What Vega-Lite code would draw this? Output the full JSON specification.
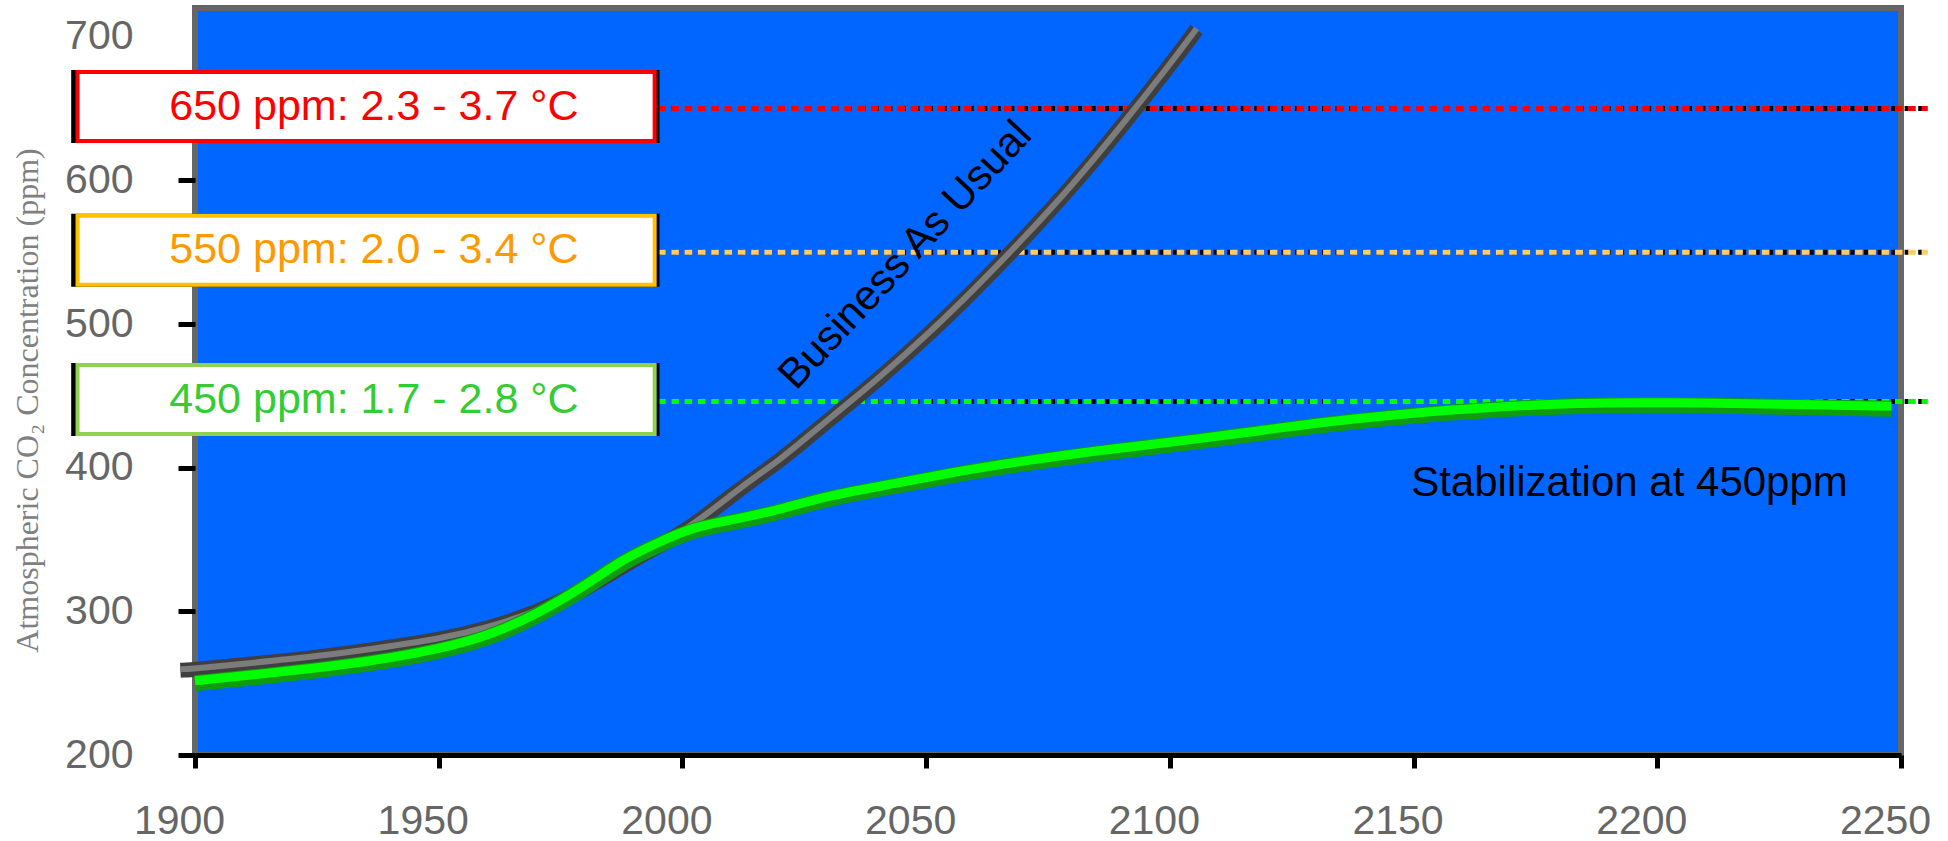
{
  "$schema": "https://vega.github.io/schema/vega-lite/v6.json",
  "width": 1706,
  "height": 747,
  "autosize": "none",
  "padding": {"left": 195, "top": 8, "right": 47, "bottom": 86},
  "background": "white",
  "config": {
    "view": {"fill": "#0066FF", "stroke": "#666666", "strokeWidth": 6},
    "font": "Liberation Sans",
    "axisX": {
      "format": "d", "grid": false,
      "labelFont": "Liberation Sans", "labelFontSize": 41, "labelColor": "#666666",
      "labelOffset": -16, "labelPadding": 33, "labelFlush": false, "labelOverlap": false, "labelBound": false,
      "tickSize": 13, "tickWidth": 5, "tickColor": "black",
      "domainColor": "black", "domainWidth": 5
    },
    "axisY": {
      "grid": false, "domain": false,
      "titleFont": "Liberation Serif", "titleFontSize": 32, "titleFontWeight": "normal",
      "titleColor": "#808080", "titleX": -168, "titleY": 392, "titleAngle": -90,
      "titleAlign": "center", "titleBaseline": "middle",
      "labelFont": "Liberation Sans", "labelFontSize": 41, "labelColor": "#666666",
      "labelPadding": 45, "labelFlush": false, "labelOverlap": false, "labelBound": false,
      "tickSize": 17, "tickWidth": 5
    }
  },
  "datasets": {
    "curves": [
      {"scenario": "Business As Usual", "year": 1897, "ppm": 259},
      {"scenario": "Business As Usual", "year": 1900, "ppm": 259.5},
      {"scenario": "Business As Usual", "year": 1912, "ppm": 263.5},
      {"scenario": "Business As Usual", "year": 1925, "ppm": 268},
      {"scenario": "Business As Usual", "year": 1937, "ppm": 273.5},
      {"scenario": "Business As Usual", "year": 1950, "ppm": 280},
      {"scenario": "Business As Usual", "year": 1960, "ppm": 288},
      {"scenario": "Business As Usual", "year": 1970, "ppm": 299},
      {"scenario": "Business As Usual", "year": 1980, "ppm": 315},
      {"scenario": "Business As Usual", "year": 1990, "ppm": 336},
      {"scenario": "Business As Usual", "year": 1995, "ppm": 345},
      {"scenario": "Business As Usual", "year": 2000, "ppm": 355},
      {"scenario": "Business As Usual", "year": 2005, "ppm": 367},
      {"scenario": "Business As Usual", "year": 2011, "ppm": 383},
      {"scenario": "Business As Usual", "year": 2015, "ppm": 393},
      {"scenario": "Business As Usual", "year": 2020, "ppm": 405},
      {"scenario": "Business As Usual", "year": 2025, "ppm": 419},
      {"scenario": "Business As Usual", "year": 2030, "ppm": 433},
      {"scenario": "Business As Usual", "year": 2035, "ppm": 447},
      {"scenario": "Business As Usual", "year": 2040, "ppm": 461},
      {"scenario": "Business As Usual", "year": 2050, "ppm": 491},
      {"scenario": "Business As Usual", "year": 2060, "ppm": 524},
      {"scenario": "Business As Usual", "year": 2070, "ppm": 559},
      {"scenario": "Business As Usual", "year": 2080, "ppm": 596},
      {"scenario": "Business As Usual", "year": 2090, "ppm": 637},
      {"scenario": "Business As Usual", "year": 2100, "ppm": 680},
      {"scenario": "Business As Usual", "year": 2105.5, "ppm": 705},
      {"scenario": "Stabilization", "year": 1900, "ppm": 250},
      {"scenario": "Stabilization", "year": 1912, "ppm": 254},
      {"scenario": "Stabilization", "year": 1924, "ppm": 258.5},
      {"scenario": "Stabilization", "year": 1937, "ppm": 264},
      {"scenario": "Stabilization", "year": 1950, "ppm": 272},
      {"scenario": "Stabilization", "year": 1960, "ppm": 281},
      {"scenario": "Stabilization", "year": 1970, "ppm": 296},
      {"scenario": "Stabilization", "year": 1980, "ppm": 316},
      {"scenario": "Stabilization", "year": 1988, "ppm": 335},
      {"scenario": "Stabilization", "year": 1995, "ppm": 346},
      {"scenario": "Stabilization", "year": 2002, "ppm": 357},
      {"scenario": "Stabilization", "year": 2012, "ppm": 363},
      {"scenario": "Stabilization", "year": 2021, "ppm": 370},
      {"scenario": "Stabilization", "year": 2030, "ppm": 379},
      {"scenario": "Stabilization", "year": 2045, "ppm": 388},
      {"scenario": "Stabilization", "year": 2057, "ppm": 396},
      {"scenario": "Stabilization", "year": 2070, "ppm": 403},
      {"scenario": "Stabilization", "year": 2085, "ppm": 410},
      {"scenario": "Stabilization", "year": 2100, "ppm": 416},
      {"scenario": "Stabilization", "year": 2112, "ppm": 421},
      {"scenario": "Stabilization", "year": 2127, "ppm": 428},
      {"scenario": "Stabilization", "year": 2137, "ppm": 432},
      {"scenario": "Stabilization", "year": 2152, "ppm": 437},
      {"scenario": "Stabilization", "year": 2165, "ppm": 440},
      {"scenario": "Stabilization", "year": 2178, "ppm": 442.5},
      {"scenario": "Stabilization", "year": 2190, "ppm": 443.5},
      {"scenario": "Stabilization", "year": 2203, "ppm": 443.5},
      {"scenario": "Stabilization", "year": 2215, "ppm": 443},
      {"scenario": "Stabilization", "year": 2228, "ppm": 442.3},
      {"scenario": "Stabilization", "year": 2248, "ppm": 441}
    ],
    "thresholds": [
      {"level": "650", "ppm": 650, "label": "650 ppm: 2.3 - 3.7 °C"},
      {"level": "550", "ppm": 550, "label": "550 ppm: 2.0 - 3.4 °C"},
      {"level": "450", "ppm": 446, "label": "450 ppm: 1.7 - 2.8 °C"}
    ],
    "notes": [
      {"note": "Business As Usual", "year": 2045.7, "ppm": 548},
      {"note": "Stabilization at 450ppm", "year": 2194.3, "ppm": 389}
    ]
  },
  "encoding": {
    "y": {"field": "ppm", "type": "quantitative",
      "scale": {"domain": [200, 720], "nice": false, "zero": false},
      "axis": {
        "values": [200, 300, 400, 500, 600, 700],
        "title": "Atmospheric CO₂ Concentration (ppm)",
        "tickColor": {"condition": {"test": "datum.value === 700", "value": "transparent"}, "value": "black"}
      }
    }
  },
  "layer": [
    {
      "data": {"name": "curves"},
      "transform": [{"filter": "datum.scenario === 'Business As Usual'"}],
      "mark": {"type": "line", "interpolate": "basis", "stroke": "#3f3f3f", "strokeWidth": 15, "strokeCap": "butt", "opacity": 0},
      "encoding": {
        "x": {"field": "year", "type": "quantitative",
          "scale": {"domain": [1900, 2250], "nice": false, "zero": false},
          "axis": {"values": [1900, 1950, 2000, 2050, 2100, 2150, 2200, 2250], "title": null}
        }
      }
    },
    {
      "data": {"name": "thresholds"},
      "mark": {"type": "rule", "stroke": "black", "strokeWidth": 5, "strokeDash": [4, 9.55]},
      "encoding": {
        "x": {"datum": 1995, "type": "quantitative", "scale": {"domain": [1900, 2250], "nice": false, "zero": false}},
        "x2": {"datum": 2255.5}
      }
    },
    {
      "data": {"name": "thresholds"},
      "mark": {"type": "rule", "strokeWidth": 5, "strokeDash": [7.5, 5.8]},
      "encoding": {
        "x": {"datum": 1995, "type": "quantitative", "scale": {"domain": [1900, 2250], "nice": false, "zero": false}},
        "x2": {"datum": 2255.5},
        "color": {"condition": [
          {"test": "datum.level === '650'", "value": "#FF0000"},
          {"test": "datum.level === '550'", "value": "#FFCC66"}
        ], "value": "#00FF00"}
      }
    },
    {
      "data": {"name": "curves"},
      "transform": [{"filter": "datum.scenario === 'Business As Usual'"}],
      "mark": {"type": "line", "interpolate": "basis", "stroke": "#3f3f3f", "strokeWidth": 15, "strokeCap": "butt"},
      "encoding": {
        "x": {"field": "year", "type": "quantitative", "scale": {"domain": [1900, 2250], "nice": false, "zero": false}}
      }
    },
    {
      "data": {"name": "curves"},
      "transform": [{"filter": "datum.scenario === 'Business As Usual'"}],
      "mark": {"type": "line", "interpolate": "basis", "stroke": "#7c7c7c", "strokeWidth": 6, "strokeCap": "butt", "yOffset": -1},
      "encoding": {
        "x": {"field": "year", "type": "quantitative", "scale": {"domain": [1900, 2250], "nice": false, "zero": false}}
      }
    },
    {
      "data": {"name": "curves"},
      "transform": [{"filter": "datum.scenario === 'Stabilization'"}],
      "mark": {"type": "line", "interpolate": "basis", "stroke": "#0f9a0f", "strokeWidth": 16, "strokeCap": "butt"},
      "encoding": {
        "x": {"field": "year", "type": "quantitative", "scale": {"domain": [1900, 2250], "nice": false, "zero": false}}
      }
    },
    {
      "data": {"name": "curves"},
      "transform": [{"filter": "datum.scenario === 'Stabilization'"}],
      "mark": {"type": "line", "interpolate": "basis", "stroke": "#00FF00", "strokeWidth": 9, "strokeCap": "butt", "yOffset": -2.5},
      "encoding": {
        "x": {"field": "year", "type": "quantitative", "scale": {"domain": [1900, 2250], "nice": false, "zero": false}}
      }
    },
    {
      "data": {"name": "thresholds"},
      "mark": {"type": "rect", "fill": "black", "yOffset": -38.5, "y2Offset": 34.5},
      "encoding": {
        "x": {"datum": 1874.6, "type": "quantitative", "scale": {"domain": [1900, 2250], "nice": false, "zero": false}},
        "x2": {"datum": 1995.3},
        "y2": {"field": "ppm"}
      }
    },
    {
      "data": {"name": "thresholds"},
      "mark": {"type": "rect", "fill": "white", "strokeWidth": 4, "yOffset": -36.5, "y2Offset": 32.5},
      "encoding": {
        "x": {"datum": 1875.9, "type": "quantitative", "scale": {"domain": [1900, 2250], "nice": false, "zero": false}},
        "x2": {"datum": 1994.3},
        "y2": {"field": "ppm"},
        "stroke": {"condition": [
          {"test": "datum.level === '650'", "value": "#FF0000"},
          {"test": "datum.level === '550'", "value": "#FFC000"}
        ], "value": "#92D050"}
      }
    },
    {
      "data": {"name": "thresholds"},
      "mark": {"type": "text", "font": "Liberation Sans", "fontSize": 43, "align": "center", "baseline": "middle", "yOffset": -2},
      "encoding": {
        "x": {"datum": 1936.7, "type": "quantitative", "scale": {"domain": [1900, 2250], "nice": false, "zero": false}},
        "text": {"field": "label"},
        "color": {"condition": [
          {"test": "datum.level === '650'", "value": "#FF0000"},
          {"test": "datum.level === '550'", "value": "#FF9900"}
        ], "value": "#33CC33"}
      }
    },
    {
      "data": {"name": "notes"},
      "mark": {"type": "text", "font": "Liberation Sans", "fontSize": 42, "align": "center", "baseline": "middle", "color": "black"},
      "encoding": {
        "x": {"field": "year", "type": "quantitative", "scale": {"domain": [1900, 2250], "nice": false, "zero": false}},
        "text": {"field": "note"},
        "angle": {"condition": {"test": "datum.note === 'Business As Usual'", "value": 313}, "value": 0}
      }
    }
  ]
}
